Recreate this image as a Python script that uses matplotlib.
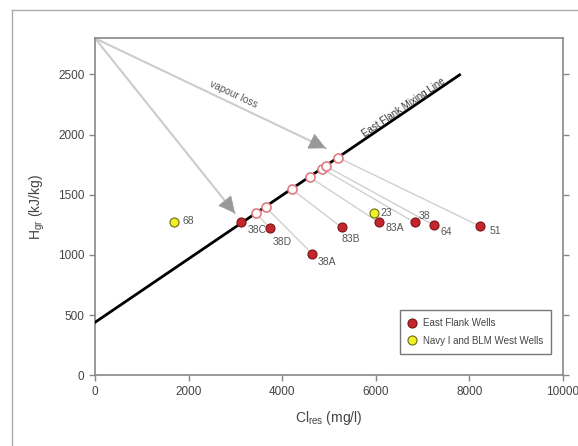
import numpy as np
import matplotlib
matplotlib.use("Agg")
import matplotlib.pyplot as plt
from matplotlib.lines import Line2D

plt.rcParams['font.family'] = ['Liberation Sans', 'DejaVu Sans']

# East Flank wells (measured)
ef_names = ['38C', '38D', '38A', '83B', '83A', '38', '64', '51']
ef_cl = [3130, 3740, 4640, 5270, 6070, 6830, 7250, 8220]
ef_h = [1270, 1220, 1010, 1230, 1270, 1270, 1245, 1240]

# projected points on the mixing line (same order, 38C has none)
proj_cl = [3440, 3645, 4205, 4585, 4845, 4930, 5200]
proj_h = [1348, 1398, 1545, 1647, 1718, 1738, 1808]

# Navy I and BLM west wells
west_names = ['23', '68']
west_cl = [5970, 1690]
west_h = [1348, 1272]

# mixing line end points
mix_cl = [0, 7790]
mix_h = [440, 2496]

# steam point and vapour loss arrow tips
steam = (0, 2800)
arrow_tips = [(4930, 1887), (2990, 1346)]

# label offsets (pixels)
ef_off = [(6, -8), (3, -14), (6, -8), (0, -12), (6, -6), (4, 6), (6, -7), (10, -5)]
west_off = [(6, 0), (8, 1)]

fig = plt.figure(figsize=(5.78, 4.46), dpi=100)
ax = fig.add_axes([95/578, 1-375.3/446, (563-95)/578, (375.3-38.3)/446])

# outer frame
fig.add_artist(Line2D([12/578, 12/578], [0, 1-10/446], transform=fig.transFigure, color='#aaaaaa', lw=1))
fig.add_artist(Line2D([12/578, 1], [1-10/446, 1-10/446], transform=fig.transFigure, color='#aaaaaa', lw=1))

# vapour loss arrows
for tx, ty in arrow_tips:
    ax.plot([steam[0], tx], [steam[1], ty], color='#cccccc', lw=1.5, zorder=1)
    dx = tx - steam[0]
    dy = ty - steam[1]
    ax.annotate('', xy=(tx, ty), xytext=(tx - 0.06*dx, ty - 0.06*dy),
                arrowprops=dict(arrowstyle='-|>,head_length=1.1,head_width=0.55',
                                color='#999999', lw=0.5, shrinkA=0, shrinkB=0), zorder=2)

# projection lines
for i in range(len(proj_cl)):
    ax.plot([ef_cl[i+1], proj_cl[i]], [ef_h[i+1], proj_h[i]], color='#d0d0d0', lw=1, zorder=1)

ax.plot(mix_cl, mix_h, color='black', lw=2, zorder=3)

ax.plot(proj_cl, proj_h, 'o', ms=6.5, mfc='white', mec='#e07a80', mew=1.2, zorder=4)
ax.plot(ef_cl, ef_h, 'o', ms=6.5, mfc='#c4262e', mec='#7a1414', mew=0.8, zorder=5,
        label='East Flank Wells')
ax.plot(west_cl, west_h, 'o', ms=6.5, mfc='#f2ee2a', mec='#6a6a10', mew=0.8, zorder=5,
        label='Navy I and BLM West Wells')

for n, x, y, o in zip(ef_names, ef_cl, ef_h, ef_off):
    ax.annotate(n, (x, y), xytext=o, textcoords='offset pixels', fontsize=7.5,
                color='#555555', ha='left', va='center')
for n, x, y, o in zip(west_names, west_cl, west_h, west_off):
    ax.annotate(n, (x, y), xytext=o, textcoords='offset pixels', fontsize=7.5,
                color='#555555', ha='left', va='center')

ax.text(2960, 2330, 'vapour loss', rotation=-25, fontsize=7.3, color='#555555',
        ha='center', va='center')
ax.text(6600, 2225, 'East Flank Mixing Line', rotation=34, fontsize=7, color='#333333',
        ha='center', va='center')

ax.set_xlim(0, 10000)
ax.set_ylim(0, 2800)
ax.set_xticks([0, 2000, 4000, 6000, 8000, 10000])
ax.set_yticks([0, 500, 1000, 1500, 2000, 2500])
ax.tick_params(direction='out', length=4, width=1, colors='#888888', labelcolor='#444444',
               labelsize=8.5, right=True)
for s in ax.spines.values():
    s.set_color('#888888')
    s.set_linewidth(1.2)

ax.set_xlabel(r'Cl$_{\mathregular{res}}$ (mg/l)', fontsize=10, color='#444444', labelpad=8)
ax.set_ylabel(r'H$_{\mathregular{gr}}$ (kJ/kg)', fontsize=10, color='#444444', labelpad=8)

leg = ax.legend(loc='lower right', bbox_to_anchor=(0.985, 0.05), fontsize=7, frameon=True,
                fancybox=False, edgecolor='#555555', handletextpad=0.6, borderpad=0.8,
                labelspacing=0.8, handlelength=1.0)
leg.get_frame().set_linewidth(1)
for t in leg.get_texts():
    t.set_color('#444444')

fig.savefig('out.png', dpi=100)
